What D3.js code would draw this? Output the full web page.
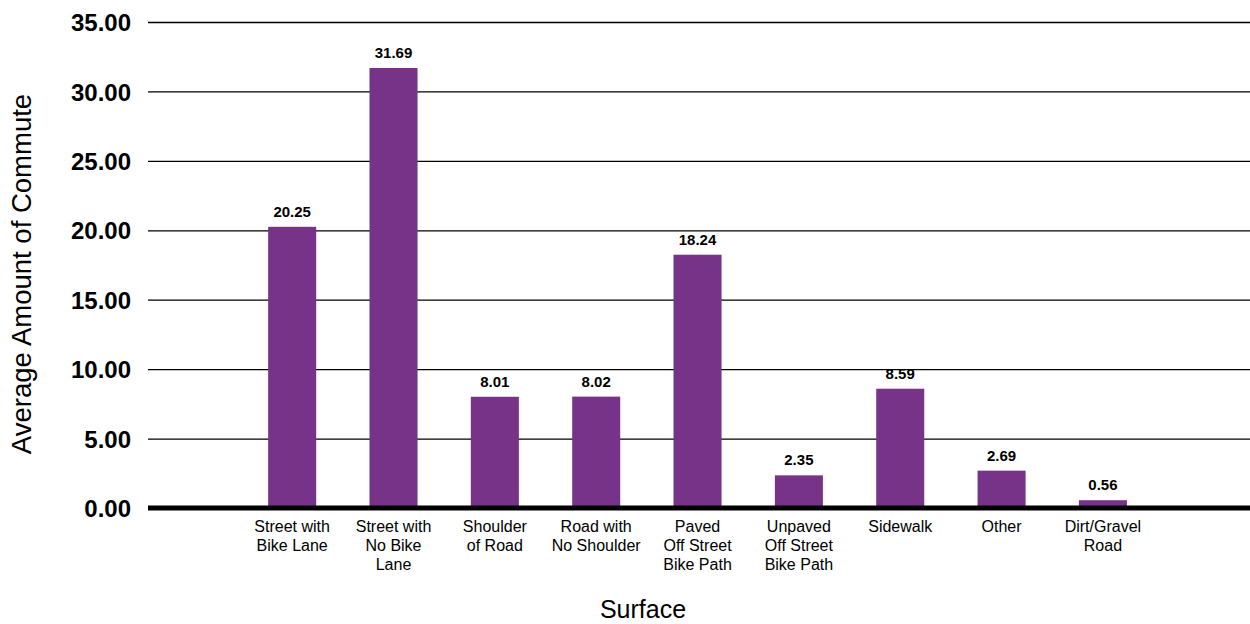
<!DOCTYPE html>
<html>
<head>
<meta charset="utf-8">
<script src="https://cdn.jsdelivr.net/npm/d3@7"></script>
<style>
  html, body { margin: 0; padding: 0; background: #fff; }
  svg { display: block; font-family: "Liberation Sans", Arial, sans-serif; }
</style>
</head>
<body>
<svg id="chart" width="1250" height="624"></svg>
<script>
// Surface categories (each entry split into its label lines)
const categories = [
  "Street with|Bike Lane",
  "Street with|No Bike|Lane",
  "Shoulder|of Road",
  "Road with|No Shoulder",
  "Paved|Off Street|Bike Path",
  "Unpaved|Off Street|Bike Path",
  "Sidewalk",
  "Other",
  "Dirt/Gravel|Road"
];
// Average amount of commute per surface
const values = [20.25, 31.69, 8.01, 8.02, 18.24, 2.35, 8.59, 2.69, 0.56];
// Y axis ticks
const yTicks = [0, 5, 10, 15, 20, 25, 30, 35];

const svg = d3.select("#chart");
const plotLeft = 148, plotRight = 1250, plotTop = 22, plotBottom = 508;

const x = d3.scaleBand()
  .domain(categories)
  .range([plotLeft, plotRight])
  .paddingInner(0.526)
  .paddingOuter(1.2)
  .align(0.494);

const y = d3.scaleLinear().domain([0, 35]).range([plotBottom, plotTop]);

// Horizontal gridlines with bold tick labels
const yAxis = d3.axisLeft(y)
  .tickValues(yTicks)
  .tickSize(-(plotRight - plotLeft))
  .tickPadding(17)
  .tickFormat(d3.format(".2f"));

const gy = svg.append("g")
  .attr("transform", `translate(${plotLeft},0)`)
  .call(yAxis);
gy.select(".domain").remove();
gy.selectAll(".tick line")
  .attr("stroke", "#000")
  .attr("stroke-width", 1.3);
gy.selectAll(".tick text")
  .attr("fill", "#000")
  .attr("font-size", 24)
  .attr("font-weight", "bold")
  .attr("font-family", "'Liberation Sans', Arial, sans-serif")
  .attr("dy", "0.36em");

// Bars
svg.append("g").selectAll("rect")
  .data(values)
  .join("rect")
  .attr("x", (d, i) => x(categories[i]))
  .attr("width", x.bandwidth())
  .attr("y", d => y(d))
  .attr("height", d => y(0) - y(d))
  .attr("fill", "#763388");

// Value labels above bars
svg.append("g").selectAll("text")
  .data(values)
  .join("text")
  .attr("x", (d, i) => x(categories[i]) + x.bandwidth() / 2)
  .attr("y", d => y(d) - 10)
  .attr("text-anchor", "middle")
  .attr("font-size", 15)
  .attr("font-weight", "bold")
  .attr("fill", "#000")
  .text(d => d.toFixed(2));

// Thick zero baseline
svg.append("line")
  .attr("x1", plotLeft).attr("x2", plotRight)
  .attr("y1", y(0)).attr("y2", y(0))
  .attr("stroke", "#000")
  .attr("stroke-width", 5);

// Category labels (multi-line)
const xl = svg.append("g").selectAll("text")
  .data(categories)
  .join("text")
  .attr("x", d => x(d) + x.bandwidth() / 2)
  .attr("y", y(0) + 24)
  .attr("text-anchor", "middle")
  .attr("font-size", 16)
  .attr("fill", "#000");
xl.selectAll("tspan")
  .data(d => d.split("|").map(line => ({ line, cx: x(d) + x.bandwidth() / 2 })))
  .join("tspan")
  .attr("x", d => d.cx)
  .attr("dy", (d, i) => i === 0 ? 0 : 19)
  .text(d => d.line);

// Axis titles
svg.append("text")
  .attr("transform", "translate(31,274) rotate(-90)")
  .attr("text-anchor", "middle")
  .attr("font-size", 27.5)
  .attr("fill", "#000")
  .text("Average Amount of Commute");

svg.append("text")
  .attr("x", 643)
  .attr("y", 618)
  .attr("text-anchor", "middle")
  .attr("font-size", 25)
  .attr("fill", "#000")
  .text("Surface");
</script>
</body>
</html>
